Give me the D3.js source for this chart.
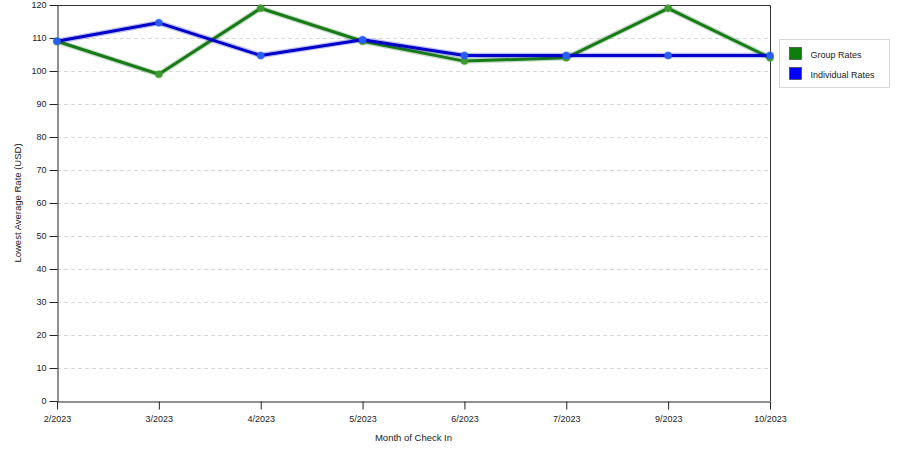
<!DOCTYPE html>
<html>
<head>
<meta charset="utf-8">
<script src="https://cdn.jsdelivr.net/npm/d3@7"></script>
<style>
  body { margin: 0; background: #fff; }
  svg { display: block; font-family: "Liberation Sans", Arial, sans-serif; }
</style>
</head>
<body>
<div id="chart"></div>
<script>
const months = ["2/2023", "3/2023", "4/2023", "5/2023", "6/2023", "7/2023", "9/2023", "10/2023"];
const groupRates = [109, 99, 119, 109, 103, 104, 119, 104];
const individualRates = [109, 114.6, 104.7, 109.5, 104.7, 104.7, 104.7, 104.7];
const yTicks = [0, 10, 20, 30, 40, 50, 60, 70, 80, 90, 100, 110, 120];

const width = 900, height = 450;
const margin = { top: 5, right: 130, bottom: 49, left: 57 };

const svg = d3.select("#chart").append("svg")
  .attr("width", width)
  .attr("height", height);

const x = d3.scalePoint()
  .domain(months)
  .range([margin.left, width - margin.right]);

const y = d3.scaleLinear()
  .domain([0, 120])
  .range([height - margin.bottom, margin.top]);

// grid lines
svg.append("g")
  .selectAll("line")
  .data(yTicks.filter((d) => d > 0 && d < 120))
  .join("line")
  .attr("x1", margin.left)
  .attr("x2", width - margin.right)
  .attr("y1", (d) => y(d) + 0.5)
  .attr("y2", (d) => y(d) + 0.5)
  .attr("stroke", "#d8d8d8")
  .attr("stroke-dasharray", "4,3");

// frame top + right
svg.append("path")
  .attr("d", `M${margin.left},${margin.top + 0.5}H${width - margin.right + 0.5}V${height - margin.bottom}`)
  .attr("fill", "none")
  .attr("stroke", "#333");

// Y axis
const yAxis = svg.append("g")
  .attr("transform", `translate(${margin.left + 0.5},0)`)
  .call(d3.axisLeft(y).tickValues(yTicks).tickSize(8).tickSizeOuter(0));
yAxis.select(".domain").attr("stroke", "#222");
yAxis.selectAll(".tick line").attr("stroke", "#222");
yAxis.selectAll("text")
  .attr("x", -11)
  .style("font-size", "9px")
  .attr("fill", "#222");

// X axis
const xAxis = svg.append("g")
  .attr("transform", `translate(0,${height - margin.bottom + 0.5})`)
  .call(d3.axisBottom(x).tickSize(8).tickSizeOuter(0));
xAxis.select(".domain").attr("stroke", "#222");
xAxis.selectAll(".tick line").attr("stroke", "#222");
xAxis.selectAll("text")
  .attr("y", 14)
  .style("font-size", "9px")
  .attr("fill", "#222");

// axis titles
svg.append("text")
  .attr("x", (margin.left + width - margin.right) / 2)
  .attr("y", 441)
  .attr("text-anchor", "middle")
  .style("font-size", "9.5px")
  .attr("fill", "#222")
  .text("Month of Check In");

svg.append("text")
  .attr("transform", `translate(21,${(margin.top + height - margin.bottom) / 2}) rotate(-90)`)
  .attr("text-anchor", "middle")
  .style("font-size", "9.5px")
  .attr("fill", "#222")
  .text("Lowest Average Rate (USD)");

const series = [
  { name: "Group Rates", values: groupRates, color: "#1a7a1a", dot: "#3f9a2f", swatch: "#0a7d0a" },
  { name: "Individual Rates", values: individualRates, color: "#0000c8", dot: "#2a5ef0", swatch: "#0000ff" },
];

const line = d3.line()
  .x((d, i) => x(months[i]))
  .y((d) => y(d));

series.forEach((s) => {
  svg.append("path")
    .attr("d", line(s.values))
    .attr("fill", "none")
    .attr("stroke", s.color)
    .attr("stroke-opacity", 0.25)
    .attr("stroke-width", 5.5)
    .attr("stroke-linejoin", "round");
  svg.append("path")
    .attr("d", line(s.values))
    .attr("fill", "none")
    .attr("stroke", s.color)
    .attr("stroke-width", 3)
    .attr("stroke-linejoin", "round");
  svg.append("g")
    .selectAll("circle")
    .data(s.values)
    .join("circle")
    .attr("cx", (d, i) => x(months[i]))
    .attr("cy", (d) => y(d))
    .attr("r", 3.5)
    .attr("fill", s.dot)
    .attr("stroke", s.dot)
    .attr("stroke-opacity", 0.4)
    .attr("stroke-width", 1.5);
});

// legend
const legend = svg.append("g").attr("transform", "translate(779.5,39.5)");
legend.append("rect")
  .attr("width", 110)
  .attr("height", 48)
  .attr("fill", "#fff")
  .attr("stroke", "#d8d8d8");

series.forEach((s, i) => {
  const row = legend.append("g").attr("transform", `translate(10,${8 + i * 20})`);
  row.append("rect")
    .attr("width", 12)
    .attr("height", 12)
    .attr("fill", s.swatch)
    .attr("stroke", "#333")
    .attr("stroke-width", 0.6);
  row.append("text")
    .attr("x", 21)
    .attr("y", 10)
    .style("font-size", "9px")
    .attr("fill", "#222")
    .text(s.name);
});
</script>
</body>
</html>
